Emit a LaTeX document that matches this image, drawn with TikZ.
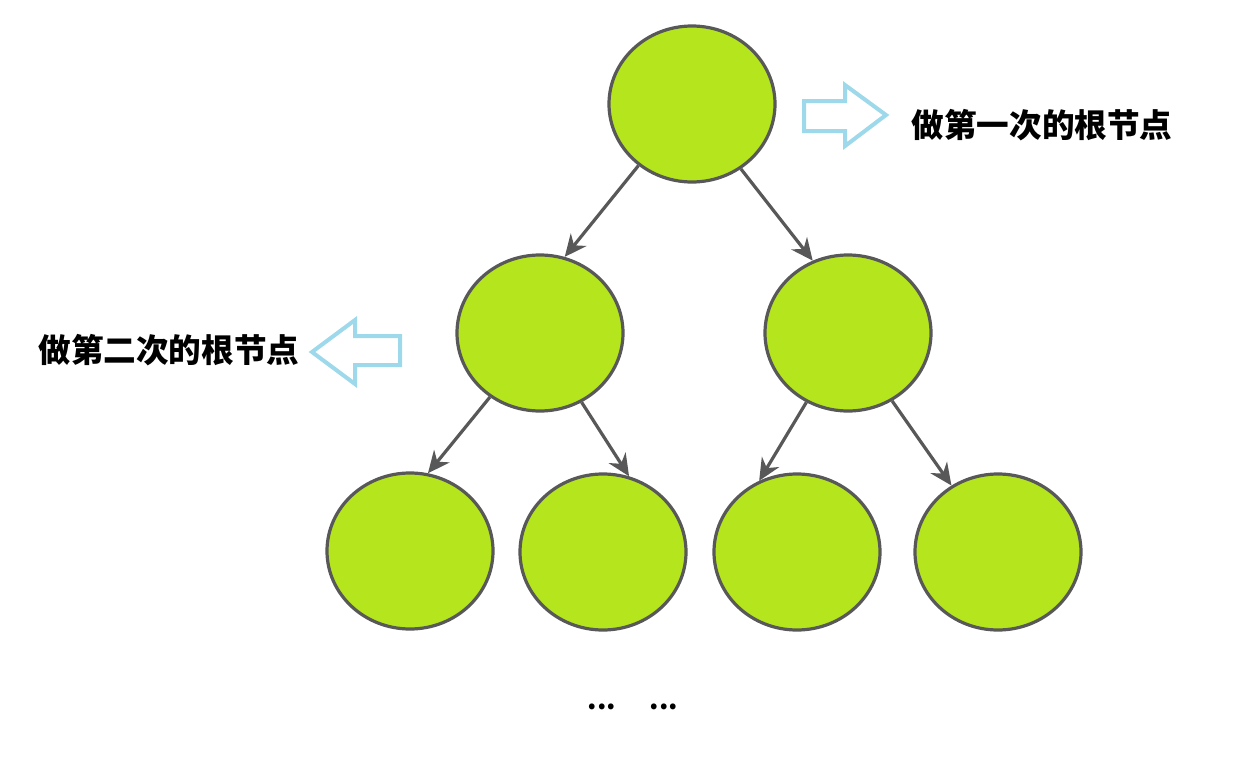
\documentclass[tikz,border=0pt]{standalone}
\usepackage{fontspec}
\newfontfamily\cjk{Noto Sans CJK SC}
\usepackage{tikz}
\usetikzlibrary{shapes.geometric,arrows.meta}
\definecolor{nodegreen}{HTML}{B5E61D}
\definecolor{edgegray}{HTML}{585858}
\definecolor{hintblue}{HTML}{9DD9EA}

\begin{document}
\begin{tikzpicture}[
  x=0.5pt, y=-0.5pt,
  treenode/.style={ellipse, draw=edgegray, line width=1.6pt, fill=nodegreen,
    minimum width=83pt, minimum height=78pt, inner sep=0pt},
  link/.style={draw=edgegray, line width=1.6pt, -{Stealth[length=11pt,width=10pt]}},
  hint/.style={draw=hintblue, line width=2pt, line join=miter},
  note/.style={font=\cjk\bfseries\fontsize{16.3}{18}\selectfont, inner sep=0pt}
]
\useasboundingbox (0,0) rectangle (1255,771);
% tree
\node[treenode] (root) at (692,104) {};
\node[treenode] (left) at (540,333) {};
\node[treenode] (right) at (848,333) {};
\node[treenode] (leftleft) at (410,551) {};
\node[treenode] (leftright) at (603,552) {};
\node[treenode] (rightleft) at (797,552) {};
\node[treenode] (rightright) at (998,552) {};
\draw[link] (root.229) -- (left.72);
\draw[link] (root.307) -- (right.116);
\draw[link] (left.232) -- (leftleft.77);
\draw[link] (left.301) -- (leftright.71);
\draw[link] (right.239) -- (rightleft.118);
\draw[link] (right.303) -- (rightright.125);
% hints
\draw[hint] (804,101) -- (845,101) -- (845,85) -- (886,115) -- (845,146) -- (845,131) -- (804,131) -- cycle;
\draw[hint] (400,336) -- (355,336) -- (355,320) -- (312,352) -- (355,384) -- (355,365) -- (400,365) -- cycle;
\node[note] (first) at (1042,125) {做第一次的根节点};
\node[note] (second) at (169,350) {做第二次的根节点};
\node[note, font=\cjk\bfseries\fontsize{13.5}{16}\selectfont] (more) at (633,707) {...\hspace{17pt}...};
\end{tikzpicture}
\end{document}
